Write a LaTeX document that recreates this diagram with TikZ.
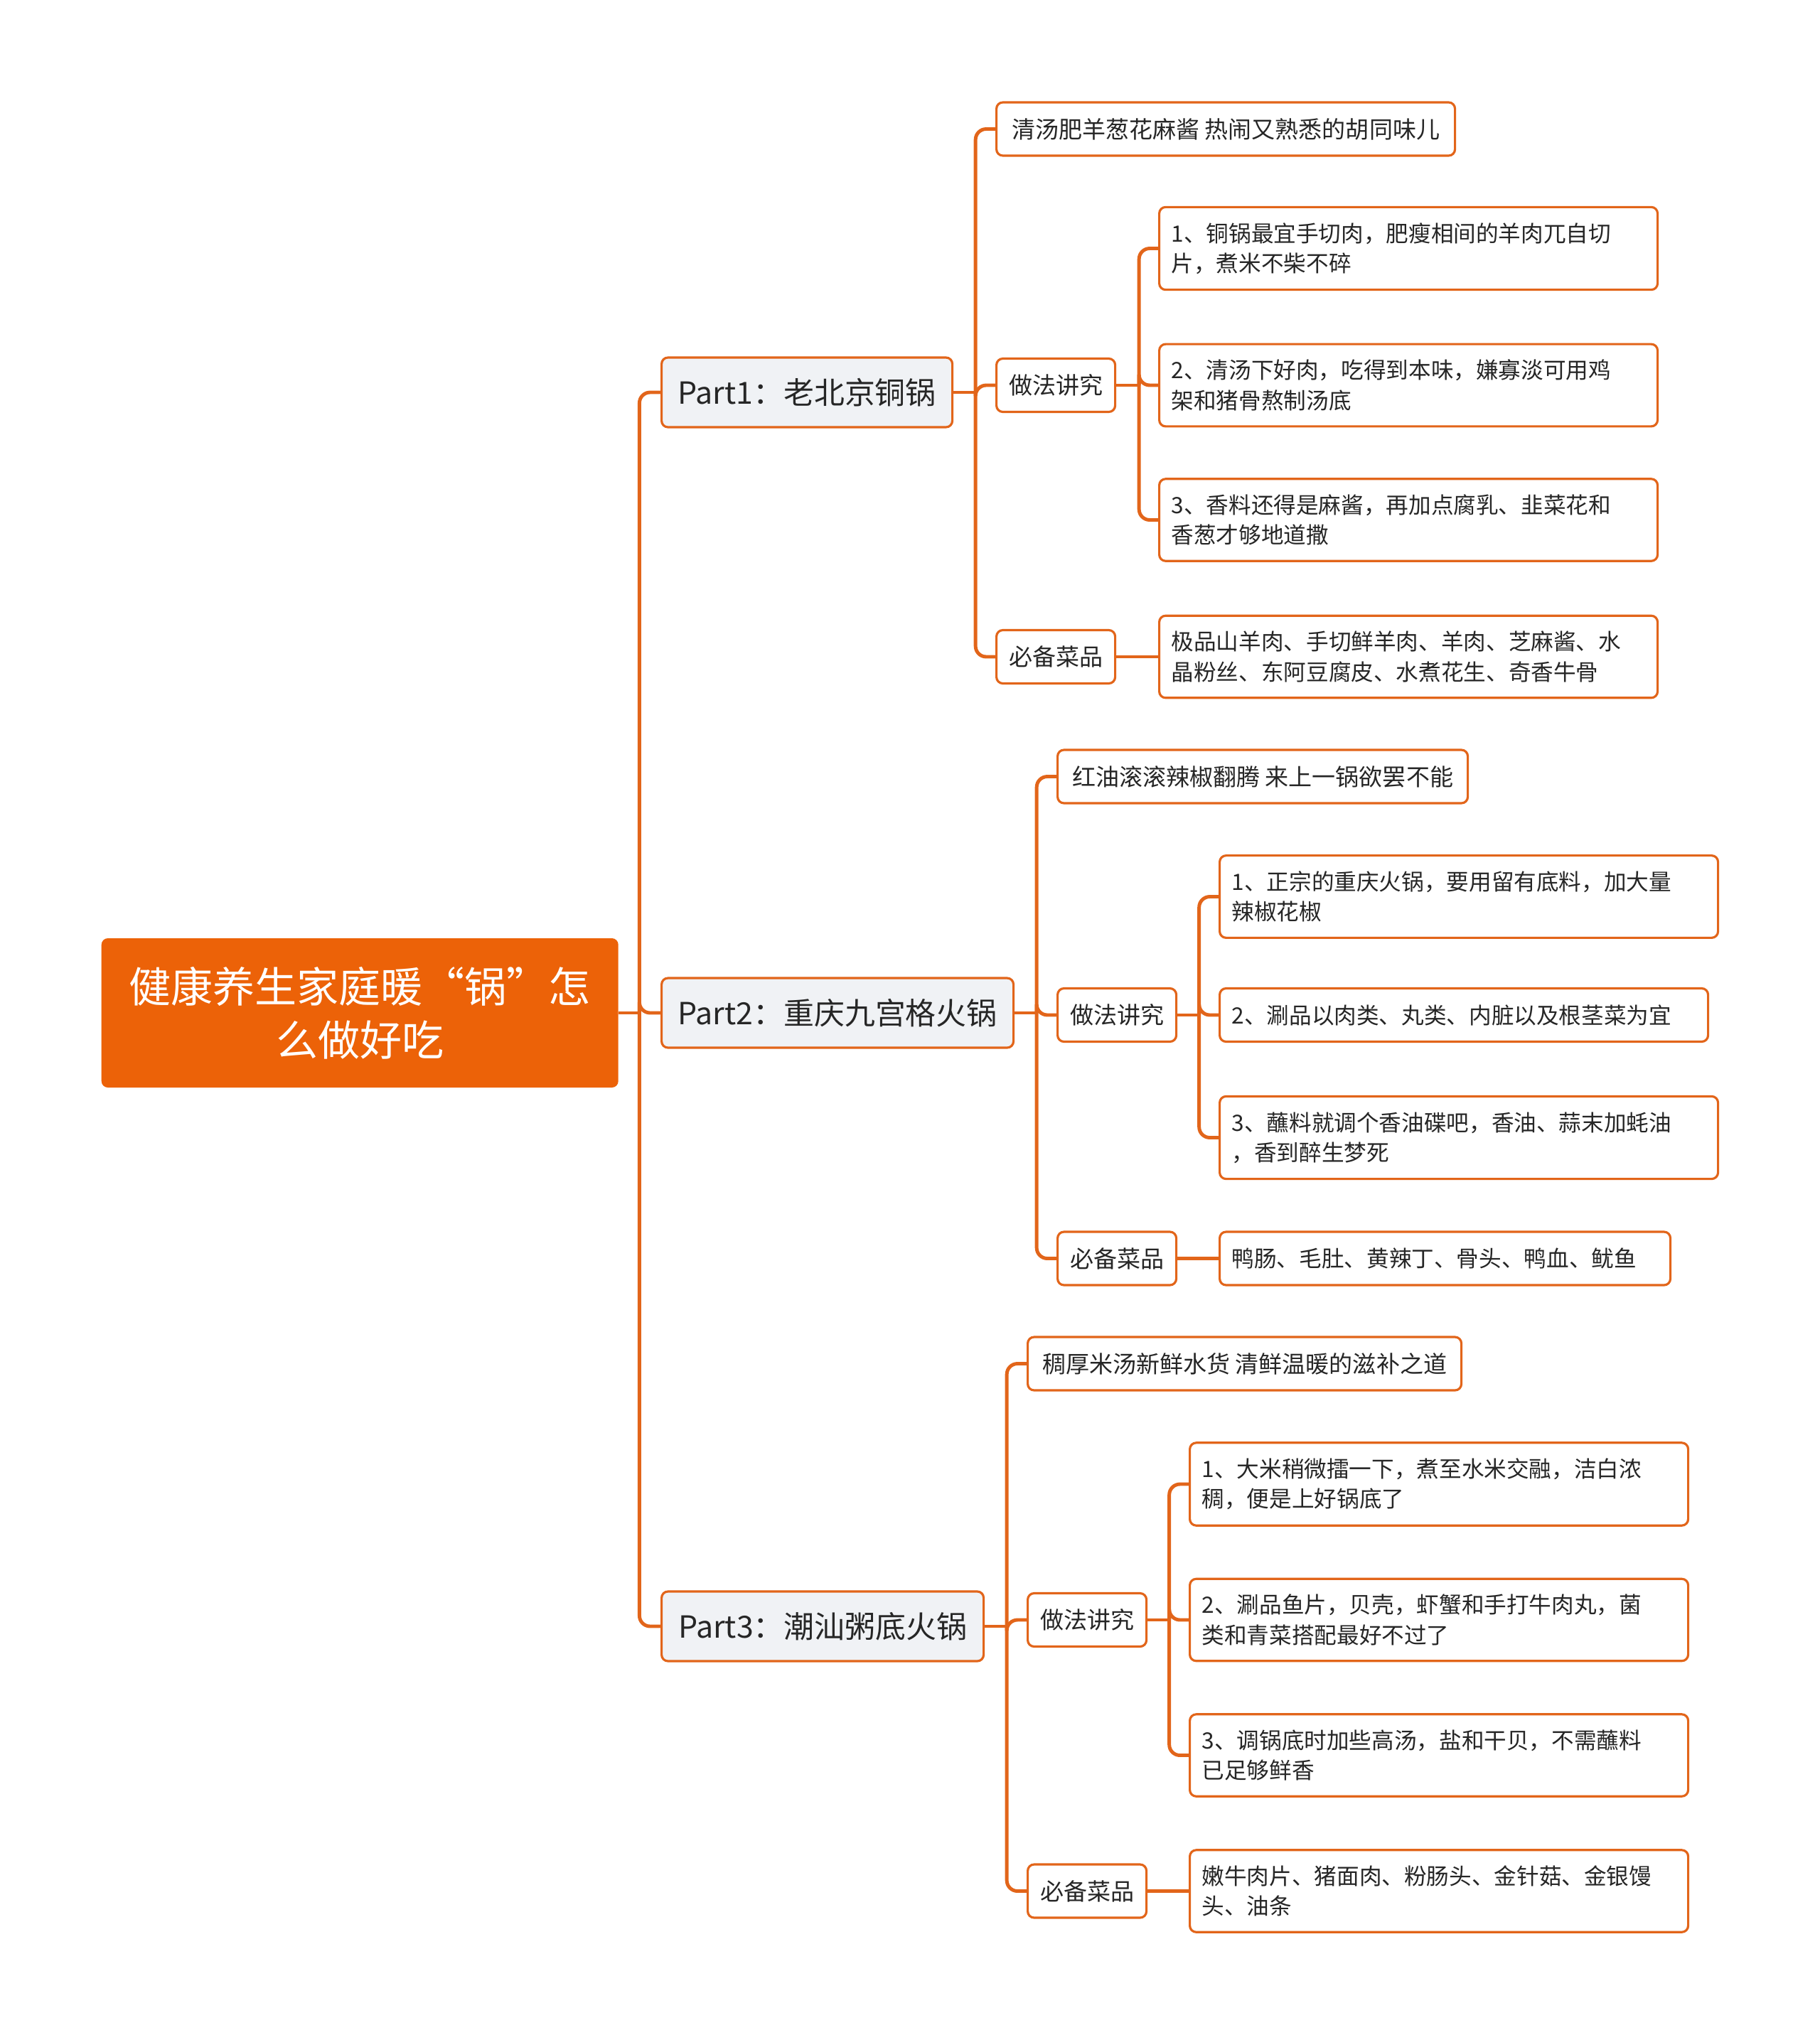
\documentclass[tikz,border=0pt]{standalone}
\usepackage{fontspec}
\setmainfont{Noto Sans CJK SC}
\definecolor{rootOrange}{RGB}{236,98,8}
\definecolor{linkOrange}{RGB}{226,101,26}
\definecolor{partGray}{RGB}{240,242,245}
\definecolor{inkGray}{RGB}{38,38,38}
\usepackage{tikz}

\begin{document}
\begin{tikzpicture}[
    every node/.style={text=inkGray, rounded corners=0.09cm, inner sep=0pt},
    box/.style={draw=linkOrange, line width=0.9pt, fill=white, minimum height=0.75cm, anchor=west},
    part/.style={box, fill=partGray, font=\fontsize{12.2}{15}\selectfont, minimum height=0.98cm},
    tag/.style={box, font=\fontsize{9.4}{12}\selectfont},
    leaf/.style={box, font=\fontsize{9}{12}\selectfont, align=left,
      inner xsep=0.17cm, inner ysep=0.22cm, text width=#1},
    leaf/.default=6.67cm,
    link/.style={linkOrange, line width=1.4pt, rounded corners=0.15cm}
  ]
    \useasboundingbox (0,0) rectangle (25.6,-28.63);
    % Center
    \node[fill=rootOrange, text=white, font=\fontsize{16.8}{21.3}\selectfont, align=center,
      minimum width=7.27cm, minimum height=2.10cm, anchor=west] (ctr) at (1.42,-14.25)
      {健康养生家庭暖“锅”怎\\么做好吃};
    \node[part, minimum width=4.09cm] (p1) at (9.29,-5.52) {Part1：老北京铜锅};
    \node[part, minimum width=4.95cm] (p2) at (9.29,-14.25) {Part2：重庆九宫格火锅};
    \node[part, minimum width=4.53cm] (p3) at (9.29,-22.88) {Part3：潮汕粥底火锅};
    % Part1
    \node[tag, minimum width=6.45cm] (t1) at (14.00,-1.815) {清汤肥羊葱花麻酱 热闹又熟悉的胡同味儿};
    \node[tag, minimum width=1.67cm] (m1) at (14.00,-5.42) {做法讲究};
    \node[tag, minimum width=1.67cm] (b1) at (14.00,-9.24) {必备菜品};
    \node[leaf] (m1a) at (16.29,-3.495) {1、铜锅最宜手切肉，肥瘦相间的羊肉兀自切\\片，煮米不柴不碎};
    \node[leaf] (m1b) at (16.29,-5.42) {2、清汤下好肉，吃得到本味，嫌寡淡可用鸡\\架和猪骨熬制汤底};
    \node[leaf] (m1c) at (16.29,-7.315) {3、香料还得是麻酱，再加点腐乳、韭菜花和\\香葱才够地道撒};
    \node[leaf] (b1a) at (16.29,-9.24) {极品山羊肉、手切鲜羊肉、羊肉、芝麻酱、水\\晶粉丝、东阿豆腐皮、水煮花生、奇香牛骨};
    % Part2
    \node[tag, minimum width=5.77cm] (t2) at (14.86,-10.925) {红油滚滚辣椒翻腾 来上一锅欲罢不能};
    \node[tag, minimum width=1.67cm] (m2) at (14.86,-14.28) {做法讲究};
    \node[tag, minimum width=1.67cm] (b2) at (14.86,-17.705) {必备菜品};
    \node[leaf] (m2a) at (17.14,-12.615) {1、正宗的重庆火锅，要用留有底料，加大量\\辣椒花椒};
    \node[leaf=6.53cm] (m2b) at (17.14,-14.28) {2、涮品以肉类、丸类、内脏以及根茎菜为宜};
    \node[leaf] (m2c) at (17.14,-16.005) {3、蘸料就调个香油碟吧，香油、蒜末加蚝油\\，香到醉生梦死};
    \node[leaf=6.00cm] (b2a) at (17.14,-17.705) {鸭肠、毛肚、黄辣丁、骨头、鸭血、鱿鱼};
    % Part3
    \node[tag, minimum width=6.10cm] (t3) at (14.44,-19.185) {稠厚米汤新鲜水货 清鲜温暖的滋补之道};
    \node[tag, minimum width=1.67cm] (m3) at (14.44,-22.79) {做法讲究};
    \node[tag, minimum width=1.67cm] (b3) at (14.44,-26.605) {必备菜品};
    \node[leaf] (m3a) at (16.72,-20.88) {1、大米稍微擂一下，煮至水米交融，洁白浓\\稠，便是上好锅底了};
    \node[leaf] (m3b) at (16.72,-22.79) {2、涮品鱼片，贝壳，虾蟹和手打牛肉丸，菌\\类和青菜搭配最好不过了};
    \node[leaf] (m3c) at (16.72,-24.695) {3、调锅底时加些高汤，盐和干贝，不需蘸料\\已足够鲜香};
    \node[leaf] (b3a) at (16.72,-26.605) {嫩牛肉片、猪面肉、粉肠头、金针菇、金银馒\\头、油条};
    % Junctions
    \coordinate (ctrj) at ([xshift=2.9mm]ctr.east);
    \coordinate (p1j) at ([xshift=3.1mm]p1.east);
    \coordinate (p2j) at ([xshift=3.1mm]p2.east);
    \coordinate (p3j) at ([xshift=3.1mm]p3.east);
    \coordinate (m1j) at ([xshift=3.2mm]m1.east);
    \coordinate (m2j) at ([xshift=3.05mm]m2.east);
    \coordinate (m3j) at ([xshift=3.05mm]m3.east);
    % Links
    \draw[link] (ctr.east) -- (ctrj);
    \draw[link] (ctrj) |- (p1.west);
    \draw[link] (ctrj) |- (p2.west);
    \draw[link] (ctrj) |- (p3.west);
    \draw[link] (p1.east) -- (p1j);
    \draw[link] (p1j) |- (t1.west);
    \draw[link] (p1j) |- (m1.west);
    \draw[link] (p1j) |- (b1.west);
    \draw[link] (m1.east) -- (m1j);
    \draw[link] (m1j) |- (m1a.west);
    \draw[link] (m1j) |- (m1b.west);
    \draw[link] (m1j) |- (m1c.west);
    \draw[link] (b1.east) -- (b1a.west);
    \draw[link] (p2.east) -- (p2j);
    \draw[link] (p2j) |- (t2.west);
    \draw[link] (p2j) |- (m2.west);
    \draw[link] (p2j) |- (b2.west);
    \draw[link] (m2.east) -- (m2j);
    \draw[link] (m2j) |- (m2a.west);
    \draw[link] (m2j) |- (m2b.west);
    \draw[link] (m2j) |- (m2c.west);
    \draw[link] (b2.east) -- (b2a.west);
    \draw[link] (p3.east) -- (p3j);
    \draw[link] (p3j) |- (t3.west);
    \draw[link] (p3j) |- (m3.west);
    \draw[link] (p3j) |- (b3.west);
    \draw[link] (m3.east) -- (m3j);
    \draw[link] (m3j) |- (m3a.west);
    \draw[link] (m3j) |- (m3b.west);
    \draw[link] (m3j) |- (m3c.west);
    \draw[link] (b3.east) -- (b3a.west);
  \end{tikzpicture}
\end{document}
